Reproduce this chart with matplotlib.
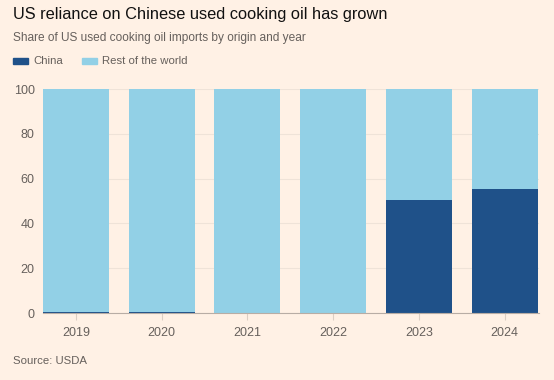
import numpy as np
import matplotlib.pyplot as plt
from matplotlib.patches import Rectangle

# ------------------------Data--------------------------------------------------
years = ['2019', '2020', '2021', '2022', '2023', '2024']
china = [0.3, 0.3, 0.2, 0.2, 50.4, 55.4]
rest = [100 - c for c in china]
# ------------------------------------------------------------------------------
plt.rcParams['font.family'] = ['Liberation Sans', 'DejaVu Sans']

bg = '#FFF1E5'
dark = '#1F5189'
light = '#92D0E6'
txt = '#66605C'

fig = plt.figure(figsize=(5.54, 3.80), dpi=100, facecolor=bg)
ax = fig.add_axes([43/554, 1-313/380, 496/554, 224/380], facecolor=bg)

x = np.arange(len(years))
ax.bar(x, china, width=0.77, color=dark, zorder=3)
ax.bar(x, rest, bottom=china, width=0.77, color=light, zorder=3)

ax.set_xlim(-0.385, 5.4)
ax.set_ylim(0, 100)
ax.set_yticks([0, 20, 40, 60, 80, 100])
ax.set_xticks(x)
ax.set_xticklabels(years)
ax.grid(axis='y', color='#EFE3D8', linewidth=0.8, zorder=0)
for s in ['top', 'right', 'left']:
    ax.spines[s].set_visible(False)
ax.spines['bottom'].set_color('#B8ADA5')
ax.spines['bottom'].set_zorder(4)
ax.tick_params(axis='y', length=0, labelsize=9, labelcolor=txt, pad=6)
ax.tick_params(axis='x', length=5, color='#DCCFC4', labelsize=9, labelcolor=txt, pad=5)

fig.text(13/554, 1-15/380, 'US reliance on Chinese used cooking oil has grown',
         fontsize=11.8, color='#111111', va='center')
fig.text(13/554, 1-38/380, 'Share of US used cooking oil imports by origin and year',
         fontsize=8.6, color=txt, va='center')
fig.patches.append(Rectangle((13/554, 1-64/380), 15/554, 6/380, transform=fig.transFigure,
                             color=dark, figure=fig))
fig.text(33/554, 1-61/380, 'China', fontsize=8.2, color=txt, va='center')
fig.patches.append(Rectangle((82/554, 1-64/380), 15/554, 6/380, transform=fig.transFigure,
                             color=light, figure=fig))
fig.text(102/554, 1-61/380, 'Rest of the world', fontsize=8.2, color=txt, va='center')
fig.text(13/554, 1-361/380, 'Source: USDA', fontsize=8.2, color=txt, va='center')

plt.savefig('out.png', dpi=100, facecolor=bg)
